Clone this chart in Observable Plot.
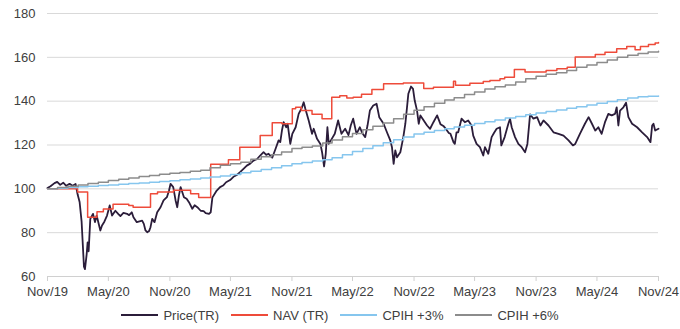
<!DOCTYPE html>
<html>
<head>
<meta charset="utf-8">
<script src="https://cdn.jsdelivr.net/npm/d3@7"></script>
<script src="https://cdn.jsdelivr.net/npm/@observablehq/plot@0.6"></script>
<style>
  body { margin: 0; background: #fff; font-family: "Liberation Sans", Arial, sans-serif; }
  #legend { display: flex; justify-content: center; align-items: center; height: 24px; font-size: 13px; color: #404040; }
  #legend .item { display: flex; align-items: center; margin: 0 6px; }
  #legend .swatch { display: inline-block; width: 37px; height: 2px; margin-right: 5px; }
</style>
</head>
<body>
<div id="chart"></div>
<div id="legend"></div>
<script>
// ---- Data ----
const price = [
["2019-11-01",100.4],["2019-11-10",101.2],["2019-11-22",102.6],["2019-11-30",103.2],["2019-12-09",101.8],["2019-12-18",102.8],["2019-12-27",101.4],
["2020-01-06",102.3],["2020-01-15",101.4],["2020-01-24",102.2],["2020-01-30",97.5],["2020-02-05",94],["2020-02-11",85],["2020-02-18",64.5],["2020-02-21",63.4],
["2020-02-26",70],["2020-02-29",75.6],["2020-03-03",71.5],["2020-03-08",86.3],["2020-03-16",88.6],["2020-03-22",84.8],["2020-03-27",87.8],["2020-04-07",81],
["2020-04-12",83.3],["2020-04-19",85],["2020-04-27",87.8],["2020-05-05",92.4],["2020-05-12",87.8],["2020-05-22",90],["2020-05-31",88.5],["2020-06-06",87.6],
["2020-06-15",89],["2020-06-26",88.6],["2020-07-02",88],["2020-07-10",89.3],["2020-07-15",87],["2020-07-25",84.8],["2020-08-02",85.2],["2020-08-10",85.5],
["2020-08-15",84],["2020-08-20",81],["2020-08-25",80.2],["2020-08-31",80.8],["2020-09-04",82.5],["2020-09-09",86.3],["2020-09-16",84.8],["2020-09-24",89.3],
["2020-10-04",91.6],["2020-10-13",94.7],["2020-10-23",96.2],["2020-10-29",99],["2020-11-03",102.3],["2020-11-11",100.8],["2020-11-18",94.7],["2020-11-23",91.6],
["2020-11-28",97],["2020-12-03",100.8],["2020-12-13",96.2],["2020-12-21",95.5],["2020-12-28",93.9],["2021-01-07",90.9],["2021-01-14",92.5],["2021-01-22",91.6],
["2021-02-01",90],["2021-02-10",89.8],["2021-02-16",88.9],["2021-02-26",88.6],["2021-03-03",89.3],["2021-03-08",96],["2021-03-21",99.2],["2021-03-31",100.8],
["2021-04-09",101.5],["2021-04-18",103],["2021-04-30",104],["2021-05-10",105.5],["2021-05-20",106.3],["2021-05-29",107.5],["2021-06-09",109.1],["2021-06-19",110.6],
["2021-06-29",111.5],["2021-07-09",112.9],["2021-07-19",113.5],["2021-07-29",115.2],["2021-08-08",116.7],["2021-08-16",115.5],["2021-08-23",116],["2021-09-03",114.2],
["2021-09-13",118.3],["2021-09-22",122.1],["2021-09-27",121.3],["2021-10-02",126.6],["2021-10-07",130.4],["2021-10-15",128.1],["2021-10-19",129.7],["2021-10-27",120.5],
["2021-11-02",125.1],["2021-11-12",128.1],["2021-11-21",134.2],["2021-12-01",137.2],["2021-12-06",139.5],["2021-12-11",136.5],["2021-12-21",131.2],["2021-12-31",125.1],
["2022-01-05",127.4],["2022-01-15",122.8],["2022-01-25",120.5],["2022-01-30",116.7],["2022-02-05",110.2],["2022-02-10",116],["2022-02-15",128.1],["2022-02-19",120.5],
["2022-02-28",122.8],["2022-03-09",125.1],["2022-03-19",131.2],["2022-03-29",125.1],["2022-04-09",127.4],["2022-04-19",124.5],["2022-04-26",129],["2022-05-03",132],
["2022-05-13",125.1],["2022-05-23",128.1],["2022-05-30",125.5],["2022-06-08",123.6],["2022-06-15",129],["2022-06-22",135.7],["2022-07-02",138],["2022-07-12",138.8],
["2022-07-20",132.7],["2022-08-02",129.7],["2022-08-12",125.8],["2022-08-22",122.1],["2022-08-27",119],["2022-09-01",111.4],["2022-09-06",117.5],["2022-09-11",114.4],
["2022-09-21",116.7],["2022-09-26",120.5],["2022-09-30",123.6],["2022-10-06",129.7],["2022-10-11",137.2],["2022-10-15",143.4],["2022-10-23",146.7],["2022-10-29",145.6],
["2022-11-03",140.3],["2022-11-10",135.7],["2022-11-15",129.7],["2022-11-20",133.5],["2022-11-30",131.2],["2022-12-10",128.9],["2022-12-19",127.4],["2022-12-29",130.4],
["2023-01-09",133.5],["2023-01-19",129.5],["2023-01-29",128.5],["2023-02-06",127],["2023-02-13",125.5],["2023-02-18",125.1],["2023-02-27",121.3],["2023-03-03",120.5],
["2023-03-08",125.8],["2023-03-13",125.8],["2023-03-23",132],["2023-04-02",130.4],["2023-04-12",131.2],["2023-04-22",128.9],["2023-04-27",124.3],["2023-05-07",120.5],
["2023-05-17",119],["2023-05-27",115.2],["2023-06-01",119],["2023-06-11",116],["2023-06-21",123.6],["2023-06-28",125.5],["2023-07-06",127.4],["2023-07-16",128.1],
["2023-07-20",119.8],["2023-07-30",123.6],["2023-08-10",129.7],["2023-08-15",132],["2023-08-20",128.1],["2023-08-30",123.6],["2023-09-09",120.5],["2023-09-19",119],
["2023-09-29",116.7],["2023-10-06",120.5],["2023-10-14",134],["2023-10-24",132],["2023-11-04",132.7],["2023-11-14",128.9],["2023-11-23",131.2],["2023-12-08",128.9],
["2023-12-23",125.8],["2024-01-07",125.1],["2024-01-22",124.3],["2024-02-06",122.1],["2024-02-19",119.8],["2024-02-26",120.5],["2024-03-11",125.1],["2024-03-26",129.7],
["2024-04-06",132.7],["2024-04-16",129.7],["2024-04-26",126.6],["2024-05-05",128.1],["2024-05-15",125.1],["2024-05-25",130.4],["2024-06-04",134.2],["2024-06-14",133.5],
["2024-06-24",134.2],["2024-06-29",137.2],["2024-07-04",128.9],["2024-07-09",135.7],["2024-07-19",137.2],["2024-07-27",139.3],["2024-08-03",132.7],["2024-08-14",129.7],
["2024-08-29",128.1],["2024-09-13",125.8],["2024-09-28",123.6],["2024-10-08",121.3],["2024-10-13",128.9],["2024-10-17",129.7],["2024-10-22",126.6],["2024-11-01",127.4]
];

const nav = [
["2019-11-01",100],["2020-01-30",98.5],["2020-02-29",87],["2020-03-28",89.5],["2020-04-16",90.8],["2020-05-15",93],["2020-07-01",92.4],["2020-07-14",91.6],
["2020-09-04",97.7],["2020-09-25",98.5],["2020-11-12",99.3],["2021-01-02",97.7],["2021-01-26",96],["2021-03-03",111.2],["2021-04-25",113.3],["2021-05-29",119],
["2021-07-29",124.3],["2021-09-03",130.2],["2021-10-02",129.7],["2021-11-02",136.5],["2021-11-12",137.2],["2021-11-29",135.7],["2021-12-31",134],["2022-01-30",132],
["2022-02-28",141.8],["2022-03-24",142.5],["2022-04-14",141.4],["2022-05-03",141.8],["2022-05-28",143.2],["2022-06-28",145.3],["2022-08-02",147.9],["2022-09-30",148.3],
["2022-11-30",145.8],["2022-12-29",146.4],["2023-02-27",149.1],["2023-03-05",147.3],["2023-04-17",148.2],["2023-05-27",149],["2023-06-16",149.4],["2023-07-16",150.2],
["2023-07-30",150.9],["2023-08-28",154.4],["2023-09-29",153.3],["2023-12-01",154],["2024-01-02",154.8],["2024-02-02",155.5],["2024-02-26",160.1],["2024-04-26",161.3],
["2024-05-25",162.3],["2024-06-29",163.9],["2024-07-29",164.9],["2024-08-23",163.5],["2024-09-08",164.9],["2024-10-02",165.9],["2024-10-22",166.5],["2024-11-01",166.8]
];

const cpihMonths = [
"2019-11","2019-12",
"2020-01","2020-02","2020-03","2020-04","2020-05","2020-06","2020-07","2020-08","2020-09","2020-10","2020-11","2020-12",
"2021-01","2021-02","2021-03","2021-04","2021-05","2021-06","2021-07","2021-08","2021-09","2021-10","2021-11","2021-12",
"2022-01","2022-02","2022-03","2022-04","2022-05","2022-06","2022-07","2022-08","2022-09","2022-10","2022-11","2022-12",
"2023-01","2023-02","2023-03","2023-04","2023-05","2023-06","2023-07","2023-08","2023-09","2023-10","2023-11","2023-12",
"2024-01","2024-02","2024-03","2024-04","2024-05","2024-06","2024-07","2024-08","2024-09","2024-10","2024-11"
];
const cpih3 = [
100.0,100.3,100.6,100.9,101.2,101.5,101.8,102.1,102.4,102.7,103.0,103.3,103.7,104.1,104.5,104.9,105.4,105.9,106.5,107.3,108.0,108.8,109.6,110.5,
111.4,112.0,112.7,113.3,114.2,115.6,117.0,118.4,119.7,121.0,122.4,123.7,
125.0,125.8,126.6,127.4,128.2,129.0,129.8,130.6,131.4,132.3,133.0,133.8,134.6,135.3,136.0,136.8,137.5,138.3,139.1,139.9,140.7,141.4,142.0,142.3,142.4
];
const cpih6 = [
100.0,100.6,101.2,101.8,102.4,103.0,103.8,104.4,105.0,105.6,106.1,106.6,107.1,107.5,108.0,108.5,109.6,110.8,111.4,112.1,
113.5,114.6,115.6,116.8,118.4,119.0,119.6,120.9,122.3,123.8,125.3,127.0,128.6,130.0,132.0,134.0,135.8,137.5,139.0,140.5,
141.6,143.0,144.2,145.5,146.6,147.4,148.8,150.2,151.4,152.3,153.0,154.0,155.5,156.5,157.6,158.8,160.0,160.9,161.7,162.4,162.8
];

const yTicks = [60, 80, 100, 120, 140, 160, 180];
const yGrid = [80, 100, 120, 140, 160, 180];
const xTickDates = ["2019-11-01","2020-05-01","2020-11-01","2021-05-01","2021-11-01","2022-05-01","2022-11-01","2023-05-01","2023-11-01","2024-05-01","2024-11-01"];
const xTickLabels = ["Nov/19","May/20","Nov/20","May/21","Nov/21","May/22","Nov/22","May/23","Nov/23","May/24","Nov/24"];

const legendLabels = ["Price(TR)", "NAV (TR)", "CPIH +3%", "CPIH +6%"];
const legendColors = ["#2b1d3a", "#ee4b3a", "#86c6ee", "#8c8c8c"];

// ---- Build ----
const pDay = d3.utcParse("%Y-%m-%d");
const pMon = d3.utcParse("%Y-%m");
const priceData = price.map(([d, v]) => ({date: pDay(d), value: v}));
const navData = nav.map(([d, v]) => ({date: pDay(d), value: v}));
const cpih3Data = cpihMonths.map((m, i) => ({date: pMon(m), value: cpih3[i]}));
const cpih6Data = cpihMonths.map((m, i) => ({date: pMon(m), value: cpih6[i]}));
const tickDates = xTickDates.map(pDay);

const chart = Plot.plot({
  width: 680,
  height: 303,
  marginLeft: 47,
  marginRight: 22,
  marginTop: 13,
  marginBottom: 27,
  style: {fontFamily: "'Liberation Sans', Arial, sans-serif", fontSize: "13px", color: "#404040", background: "#fff"},
  x: {type: "utc", domain: [tickDates[0], tickDates[tickDates.length - 1]]},
  y: {domain: [60, 180]},
  marks: [
    Plot.ruleY(yGrid, {stroke: "#d9d9d9", strokeWidth: 1}),
    Plot.ruleY([60], {stroke: "#d0d0d0", strokeWidth: 1}),
    Plot.axisY({ticks: yTicks, tickSize: 0, tickPadding: 12, label: null, fill: "#404040"}),
    Plot.axisX({
      ticks: tickDates,
      tickFormat: d => xTickLabels[tickDates.findIndex(t => +t === +d)],
      tickSize: 5, tickPadding: 5, label: null, stroke: "#d0d0d0", fill: "#404040"
    }),
    Plot.line(priceData, {x: "date", y: "value", stroke: legendColors[0], strokeWidth: 1.8}),
    Plot.line(navData, {x: "date", y: "value", stroke: legendColors[1], strokeWidth: 1.5, curve: "step-after"}),
    Plot.line(cpih3Data, {x: "date", y: "value", stroke: legendColors[2], strokeWidth: 1.5, curve: "step-after"}),
    Plot.line(cpih6Data, {x: "date", y: "value", stroke: legendColors[3], strokeWidth: 1.5, curve: "step-after"})
  ]
});
document.getElementById("chart").appendChild(chart);

const legend = d3.select("#legend");
legendLabels.forEach((lab, i) => {
  const item = legend.append("div").attr("class", "item");
  item.append("span").attr("class", "swatch").style("background", legendColors[i]);
  item.append("span").text(lab);
});
</script>
</body>
</html>
